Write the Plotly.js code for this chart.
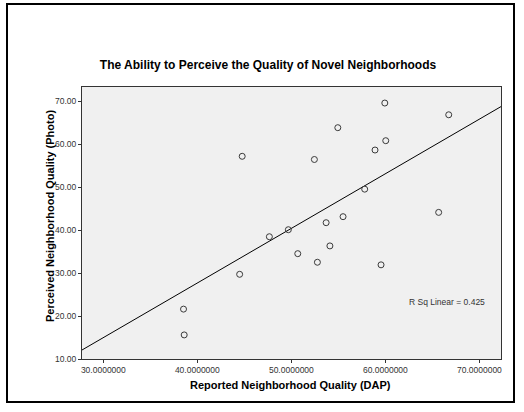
<!DOCTYPE html>
<html>
<head>
<meta charset="utf-8">
<script src="https://cdn.plot.ly/plotly-3.0.1.min.js"></script>
<style>
  html, body { margin: 0; padding: 0; background: #ffffff; }
  #chart { width: 524px; height: 412px; }
</style>
</head>
<body>
<div id="chart"></div>
<script>
// Reported Neighborhood Quality (DAP)
const dapValues = [59.94, 66.74, 54.94, 60.04, 58.90, 52.45, 57.80, 55.50, 65.67, 53.70,
                   49.68, 47.66, 54.10, 50.68, 52.77, 59.54, 44.77, 44.50, 38.53, 38.60];
// Perceived Neighborhood Quality (Photo)
const photoValues = [69.53, 66.80, 63.80, 60.77, 58.60, 56.40, 49.50, 43.10, 44.10, 41.70,
                     40.07, 38.44, 36.30, 34.50, 32.50, 31.90, 57.14, 29.70, 21.60, 15.60];
const xTickVals = [30, 40, 50, 60, 70];
const xTickText = ["30.0000000", "40.0000000", "50.0000000", "60.0000000", "70.0000000"];
const yTickVals = [10, 20, 30, 40, 50, 60, 70];
const yTickText = ["10.00", "20.00", "30.00", "40.00", "50.00", "60.00", "70.00"];
const fitLabel = "R Sq Linear = 0.425";

const xRange = [27.73, 72.30];
const yRange = [10, 73.26];

// least-squares fit line from the data
const n = dapValues.length;
const mx = dapValues.reduce((a, b) => a + b, 0) / n;
const my = photoValues.reduce((a, b) => a + b, 0) / n;
let sxy = 0, sxx = 0;
for (let i = 0; i < n; i++) {
  sxy += (dapValues[i] - mx) * (photoValues[i] - my);
  sxx += (dapValues[i] - mx) * (dapValues[i] - mx);
}
const slope = sxy / sxx;
const intercept = my - slope * mx;
const fitX = [xRange[0], xRange[1]];
const fitY = fitX.map(v => intercept + slope * v);

const W = 524, H = 412, L = 82, R = 23, T = 87, B = 53;
const pw = W - L - R, ph = H - T - B;
const px = v => (v - L) / pw;
const py = v => (H - B - v) / ph;

const font = "Arial, 'Liberation Sans', sans-serif";

const traces = [
  {
    x: fitX, y: fitY, mode: "lines", type: "scatter",
    line: { color: "#000000", width: 1 }, hoverinfo: "skip", showlegend: false
  },
  {
    x: dapValues, y: photoValues, mode: "markers", type: "scatter",
    marker: { symbol: "circle-open", size: 6, color: "#3a3a3a", line: { width: 1, color: "#3a3a3a" } },
    showlegend: false
  }
];

const layout = {
  width: W, height: H,
  margin: { l: L, r: R, t: T, b: B, pad: 0 },
  paper_bgcolor: "#ffffff",
  plot_bgcolor: "#f0f0f0",
  title: {
    text: "The Ability to Perceive the Quality of Novel Neighborhoods",
    x: 268 / W, xanchor: "center", y: 1 - 65 / H, yanchor: "middle",
    font: { family: font, size: 12, color: "#000000", weight: "bold" }
  },
  xaxis: {
    range: xRange, tickmode: "array", tickvals: xTickVals, ticktext: xTickText,
    ticks: "outside", ticklen: 3, tickwidth: 1, tickcolor: "#333333",
    showline: true, linecolor: "#333333", linewidth: 1, mirror: true,
    showgrid: false, zeroline: false,
    tickfont: { family: font, size: 8.5, color: "#333333" }
  },
  yaxis: {
    range: yRange, tickmode: "array", tickvals: yTickVals, ticktext: yTickText,
    ticks: "outside", ticklen: 3, tickwidth: 1, tickcolor: "#333333",
    showline: true, linecolor: "#333333", linewidth: 1, mirror: true,
    showgrid: false, zeroline: false,
    tickfont: { family: font, size: 8.5, color: "#333333" }
  },
  annotations: [
    {
      text: "Reported Neighborhood Quality (DAP)", xref: "paper", yref: "paper",
      x: px(290), y: py(385), xanchor: "center", yanchor: "middle", showarrow: false,
      font: { family: font, size: 11, color: "#000000", weight: "bold" }
    },
    {
      text: "Perceived Neighborhood Quality (Photo)", xref: "paper", yref: "paper",
      x: px(50), y: py(216), xanchor: "center", yanchor: "middle", showarrow: false,
      textangle: -90,
      font: { family: font, size: 11, color: "#000000", weight: "bold" }
    },
    {
      text: fitLabel, xref: "paper", yref: "paper",
      x: px(447), y: py(302), xanchor: "center", yanchor: "middle", showarrow: false,
      font: { family: font, size: 8.5, color: "#333333" }
    }
  ],
  shapes: [
    {
      type: "rect", xref: "paper", yref: "paper",
      x0: px(7), x1: px(514), y0: py(402), y1: py(4),
      line: { color: "#000000", width: 2 }, fillcolor: "rgba(0,0,0,0)", layer: "above"
    }
  ]
};

Plotly.newPlot("chart", traces, layout, { displayModeBar: false, staticPlot: true });
</script>
</body>
</html>
